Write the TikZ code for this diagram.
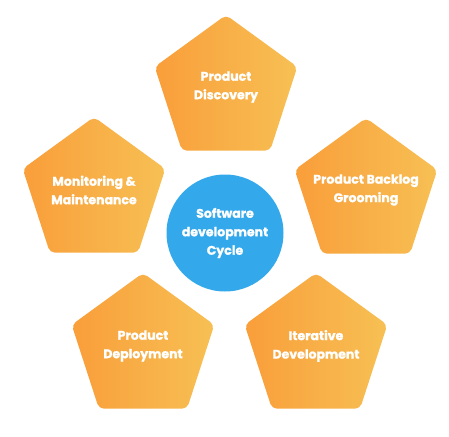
\documentclass[tikz,border=0pt]{standalone}
\usepackage{fontspec}
\setmainfont{Poppins}[BoldFont={Poppins Bold}, BoldFeatures={FakeBold=1.2}]
\usetikzlibrary{shapes.geometric}
\definecolor{orL}{RGB}{249,158,58}
\definecolor{orR}{RGB}{247,192,84}
\definecolor{cblue}{RGB}{51,169,236}
\tikzset{
  pent/.style={regular polygon, regular polygon sides=5, minimum size=150pt,
    inner sep=0pt, outer sep=0pt, rounded corners=5pt, left color=orL, right color=orR, draw=none},
  lbl/.style={text=white, font=\bfseries\fontsize{12.5}{18.5}\selectfont, align=center, inner sep=0pt},
  hub/.style={circle, fill=cblue, minimum size=117pt, inner sep=0pt, draw=none}
}
\begin{document}
\begin{tikzpicture}[x=1pt,y=-1pt]
\useasboundingbox (0,0) rectangle (449,436);
\node[pent] (p1) at (226,90) {};
\node[pent] (p2) at (366,193) {};
\node[pent] (p3) at (316,348) {};
\node[pent] (p4) at (143,348) {};
\node[pent] (p5) at (94,192) {};
\node[hub] (c) at (225,233) {};
\node[lbl] (t1) at (226,87) {Product\\Discovery};
\node[lbl] (t2) at (366,190) {Product Backlog\\Grooming};
\node[lbl] (t3) at (316,346) {Iterative\\Development};
\node[lbl] (t4) at (143,346) {Product\\Deployment};
\node[lbl] (t5) at (94,190) {Monitoring \&\\Maintenance};
\node[lbl] (tc) at (225,233) {Software\\development\\Cycle};
\end{tikzpicture}
\end{document}
